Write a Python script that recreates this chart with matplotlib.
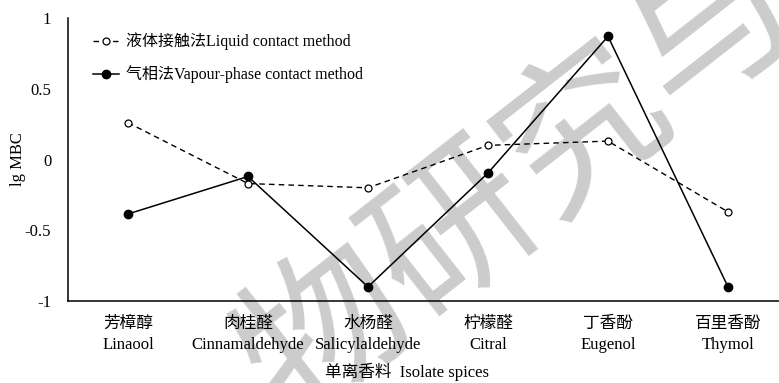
import numpy as np
import matplotlib.pyplot as plt

plt.rcParams['font.family'] = ['Liberation Serif', 'Noto Sans CJK SC']

# lg MBC of the isolated spice compounds
spices_cn = ['芳樟醇', '肉桂醛', '水杨醛', '柠檬醛', '丁香酚', '百里香酚']
spices_en = ['Linaool', 'Cinnamaldehyde', 'Salicylaldehyde', 'Citral', 'Eugenol', 'Thymol']
liquid = [0.26, -0.17, -0.20, 0.10, 0.13, -0.37]
vapour = [-0.385, -0.12, -0.90, -0.095, 0.87, -0.90]

fig = plt.figure(figsize=(7.79, 3.83), dpi=100)
ax = fig.add_axes([68 / 779, 82 / 383, 720 / 779, 283 / 383])
ax.patch.set_alpha(0)

x = np.arange(len(spices_en)) + 0.5
ax.plot(x, liquid, '--', color='black', lw=1, marker='o', ms=5,
        mfc='white', mec='black', mew=0.9, dashes=(4, 3),
        label='液体接触法Liquid contact method', zorder=3)
ax.plot(x, vapour, '-', color='black', lw=1.1, marker='o', ms=6,
        mfc='black', mec='black', label='气相法Vapour-phase contact method', zorder=3)

ax.set_xlim(0, 6)
ax.set_ylim(-1, 1)
ax.set_yticks([-1, -0.5, 0, 0.5, 1])
ax.set_yticklabels(['-1', '-0.5', '0', '0.5', '1'])
ax.set_xticks(x)
ax.set_xticklabels([c + '\n' + e for c, e in zip(spices_cn, spices_en)],
                   linespacing=1.4)
ax.tick_params(length=0, labelsize=12)
ax.tick_params(axis='x', pad=11)
ax.tick_params(axis='y', pad=12)
for s in ['top', 'right']:
    ax.spines[s].set_visible(False)
for s in ['left', 'bottom']:
    ax.spines[s].set_linewidth(1.1)

ax.set_ylabel('lg MBC', fontsize=12)
ax.yaxis.set_label_coords(-42 / 720, 0.5)
fig.text(407 / 779, 1 - 372 / 383, '单离香料  Isolate spices', fontsize=12,
         ha='center', va='center')

ax.legend(loc='upper left', bbox_to_anchor=(0.015, 1.0), frameon=False,
          fontsize=11.5, handlelength=1.6, handletextpad=0.45, labelspacing=0.95)

# background watermark
fig.text(0.67, 0.52, '物研究与', fontsize=118, rotation=38, color='#cccccc',
         ha='center', va='center', zorder=-1,
         family=['Noto Sans CJK SC'])

fig.savefig('out.png', dpi=100)
